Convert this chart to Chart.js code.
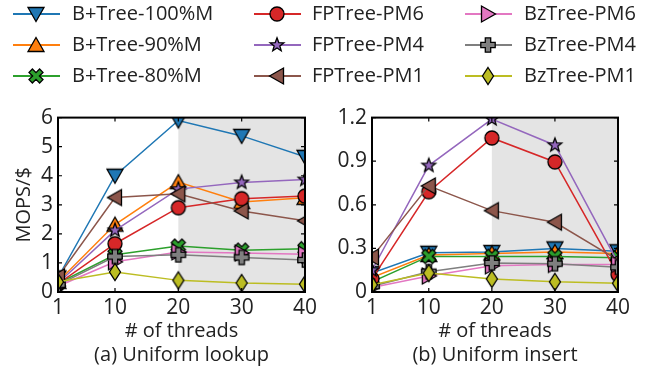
<!DOCTYPE html>
<html>
<head>
<meta charset="utf-8">
<script src="https://cdn.jsdelivr.net/npm/chart.js@4.4.1/dist/chart.umd.min.js"></script>
<style>
  html, body { margin:0; padding:0; background:#fff; }
  body { width:649px; height:370px; position:relative; overflow:hidden; font-family:"Open Sans", sans-serif; }
  canvas { position:absolute; }
  .lg { position:absolute; font-size:20px; line-height:20px; color:#222; white-space:nowrap; }
</style>
</head>
<body>
<canvas id="legend" width="649" height="95" style="left:0;top:0"></canvas>
<canvas id="c1" width="325" height="270" style="left:0;top:100px"></canvas>
<canvas id="c2" width="324" height="270" style="left:325px;top:100px"></canvas>
<div id="lgtext"></div>
<script>
// ---------------- data ----------------
const threads = [1, 10, 20, 30, 40];
const xTickLabels = ['1', '10', '20', '30', '40'];
const seriesNames = ['B+Tree-100%M', 'B+Tree-90%M', 'B+Tree-80%M',
                     'FPTree-PM6', 'FPTree-PM4', 'FPTree-PM1',
                     'BzTree-PM6', 'BzTree-PM4', 'BzTree-PM1'];

// (a) Uniform lookup, MOPS/$
const lookupBTree100 = [0.50, 4.00, 5.90, 5.37, 4.65];
const lookupBTree90  = [0.35, 2.32, 3.78, 3.10, 3.24];
const lookupBTree80  = [0.30, 1.28, 1.58, 1.44, 1.49];
const lookupFPPM6    = [0.28, 1.66, 2.90, 3.21, 3.30];
const lookupFPPM4    = [0.30, 2.12, 3.54, 3.77, 3.87];
const lookupFPPM1    = [0.52, 3.25, 3.38, 2.79, 2.45];
const lookupBzPM6    = [0.20, 1.04, 1.38, 1.34, 1.30];
const lookupBzPM4    = [0.25, 1.22, 1.28, 1.19, 1.10];
const lookupBzPM1    = [0.35, 0.69, 0.40, 0.31, 0.27];

// (b) Uniform insert, MOPS/$
const insertBTree100 = [0.13, 0.27, 0.275, 0.30, 0.28];
const insertBTree90  = [0.10, 0.255, 0.265, 0.275, 0.265];
const insertBTree80  = [0.07, 0.245, 0.245, 0.245, 0.235];
const insertFPPM6    = [0.09, 0.69, 1.06, 0.895, 0.12];
const insertFPPM4    = [0.15, 0.87, 1.19, 1.01, 0.20];
const insertFPPM1    = [0.24, 0.73, 0.56, 0.48, 0.22];
const insertBzPM6    = [0.03, 0.11, 0.18, 0.19, 0.19];
const insertBzPM4    = [0.04, 0.14, 0.20, 0.195, 0.17];
const insertBzPM1    = [0.05, 0.13, 0.09, 0.07, 0.06];

const lookupYTicks = [0, 1, 2, 3, 4, 5, 6];
const lookupYTickLabels = ['0', '1', '2', '3', '4', '5', '6'];
const insertYTicks = [0, 0.3, 0.6, 0.9, 1.2];
const insertYTickLabels = ['0', '0.3', '0.6', '0.9', '1.2'];
const shadeRange = [20, 40];

const lookupSeries = [lookupBTree100, lookupBTree90, lookupBTree80, lookupFPPM6, lookupFPPM4, lookupFPPM1, lookupBzPM6, lookupBzPM4, lookupBzPM1];
const insertSeries = [insertBTree100, insertBTree90, insertBTree80, insertFPPM6, insertFPPM4, insertFPPM1, insertBzPM6, insertBzPM4, insertBzPM1];

// ---------------- styles ----------------
const colors = ['#1f77b4', '#ff7f0e', '#2ca02c', '#d62728', '#9467bd', '#8c564b', '#e377c2', '#7f7f7f', '#bcbd22'];
const shapes = ['down', 'up', 'x', 'circle', 'star', 'left', 'right', 'plus', 'diamond'];

function makeMarker(shape, color) {
  const c = document.createElement('canvas');
  c.width = 22; c.height = 22;
  const g = c.getContext('2d');
  g.translate(11, 11);
  g.fillStyle = color; g.strokeStyle = '#000'; g.lineWidth = 1.3; g.lineJoin = 'miter';
  g.beginPath();
  const poly = pts => { g.moveTo(pts[0][0], pts[0][1]); for (let i = 1; i < pts.length; i++) g.lineTo(pts[i][0], pts[i][1]); };
  if (shape === 'down') poly([[-8, -6.5], [8, -6.5], [0, 7.5]]);
  else if (shape === 'up') poly([[-8, 6.5], [8, 6.5], [0, -7.5]]);
  else if (shape === 'left') poly([[-7.5, 0], [6.5, -8], [6.5, 8]]);
  else if (shape === 'right') poly([[7.5, 0], [-6.5, -8], [-6.5, 8]]);
  else if (shape === 'circle') g.arc(0, 0, 7, 0, Math.PI * 2);
  else if (shape === 'diamond') poly([[0, -8.5], [5.5, 0], [0, 8.5], [-5.5, 0]]);
  else if (shape === 'star') {
    const pts = [];
    for (let i = 0; i < 10; i++) {
      const r = i % 2 ? 3 : 7.2, a = -Math.PI / 2 + i * Math.PI / 5;
      pts.push([r * Math.cos(a), r * Math.sin(a)]);
    }
    poly(pts);
  } else if (shape === 'plus' || shape === 'x') {
    const t = shape === 'plus' ? 2.7 : 2.4, L = shape === 'plus' ? 7.2 : 7.5;
    let pts = [[-t, -L], [t, -L], [t, -t], [L, -t], [L, t], [t, t], [t, L], [-t, L], [-t, t], [-L, t], [-L, -t], [-t, -t]];
    if (shape === 'x') {
      const c45 = Math.SQRT1_2;
      pts = pts.map(([x, y]) => [c45 * (x - y), c45 * (x + y)]);
    }
    poly(pts);
  }
  g.closePath(); g.fill(); g.stroke();
  return c;
}
const markers = shapes.map((s, i) => makeMarker(s, colors[i]));

Chart.defaults.font.family = '"Open Sans", sans-serif';
Chart.defaults.color = '#222';

const framePlugin = {
  id: 'frame',
  beforeDatasetsDraw(chart) {
    const { ctx, chartArea: a, scales: { x } } = chart;
    const x0 = x.getPixelForValue(shadeRange[0]), x1 = x.getPixelForValue(shadeRange[1]);
    ctx.save();
    ctx.fillStyle = '#e4e4e4';
    ctx.fillRect(x0, a.top, x1 - x0, a.bottom - a.top);
    ctx.restore();
  },
  afterDatasetsDraw(chart) {
    const { ctx, chartArea: a, scales: { x, y } } = chart;
    ctx.save();
    ctx.strokeStyle = '#000';
    ctx.lineWidth = 1.2;
    ctx.beginPath();
    x.ticks.forEach(t => {
      const p = x.getPixelForValue(t.value);
      ctx.moveTo(p, a.bottom); ctx.lineTo(p, a.bottom - 4);
      ctx.moveTo(p, a.top); ctx.lineTo(p, a.top + 4);
    });
    y.ticks.forEach(t => {
      const p = y.getPixelForValue(t.value);
      ctx.moveTo(a.left, p); ctx.lineTo(a.left + 4, p);
      ctx.moveTo(a.right, p); ctx.lineTo(a.right - 4, p);
    });
    ctx.stroke();
    ctx.lineWidth = 2;
    ctx.strokeRect(a.left, a.top, a.right - a.left, a.bottom - a.top);
    ctx.restore();
  }
};

function makeChart(id, series, yMax, yTicks, yLabels, caption, yTitle, yWidth, padRight) {
  const datasets = series.map((vals, i) => ({
    label: seriesNames[i],
    data: threads.map((t, j) => ({ x: t, y: vals[j] })),
    borderColor: colors[i],
    backgroundColor: colors[i],
    borderWidth: 1.5,
    pointStyle: markers[i],
    pointRadius: 8,
    pointHoverRadius: 8,
    tension: 0,
    clip: 0,
    order: series.length - 1 - i
  }));
  return new Chart(document.getElementById(id), {
    type: 'line',
    data: { datasets },
    plugins: [framePlugin],
    options: {
      responsive: false,
      animation: false,
      devicePixelRatio: 1,
      layout: { padding: { top: 14, right: padRight, left: 0, bottom: 0 } },
      plugins: { legend: { display: false }, tooltip: { enabled: false } },
      scales: {
        x: {
          type: 'linear', min: threads[0], max: threads[threads.length - 1],
          grid: { display: false, drawTicks: false },
          border: { display: false },
          afterBuildTicks: s => { s.ticks = threads.map(v => ({ value: v })); },
          afterFit: s => { s.height = 78; },
          ticks: {
            autoSkip: false, maxRotation: 0, padding: 3,
            font: { size: 21 },
            callback: (v) => xTickLabels[threads.indexOf(v)]
          },
          title: {
            display: true, text: ['# of threads', caption],
            font: { size: 20, lineHeight: 1.2 },
            padding: { top: 0, bottom: 3 }
          }
        },
        y: {
          type: 'linear', min: 0, max: yMax,
          grid: { display: false, drawTicks: false },
          border: { display: false },
          afterBuildTicks: s => { s.ticks = yTicks.map(v => ({ value: v })); },
          afterFit: s => { s.width = yWidth; },
          ticks: {
            autoSkip: false, padding: 5,
            font: { size: 21 },
            callback: (v) => { const k = yTicks.findIndex(t => Math.abs(t - v) < 1e-9); return k >= 0 ? yLabels[k] : ''; }
          },
          title: {
            display: !!yTitle, text: yTitle || '',
            font: { size: 20, lineHeight: 1.2 },
            padding: { top: 12, bottom: 0 }
          }
        }
      }
    }
  });
}

makeChart('c1', lookupSeries, 6, lookupYTicks, lookupYTickLabels, '(a) Uniform lookup', 'MOPS/$', 58, 20);
makeChart('c2', insertSeries, 1.2, insertYTicks, insertYTickLabels, '(b) Uniform insert', '', 47, 31);

// ---------------- legend ----------------
const lgCols = [{ line: 13, marker: 36, text: 72 }, { line: 254, marker: 277, text: 312 }, { line: 465, marker: 488, text: 524 }];
const lgRows = [14, 45, 76];
const lc = document.getElementById('legend').getContext('2d');
const lgText = document.getElementById('lgtext');
seriesNames.forEach((name, i) => {
  const col = lgCols[Math.floor(i / 3)], cy = lgRows[i % 3];
  lc.strokeStyle = colors[i]; lc.lineWidth = 1.8;
  lc.beginPath(); lc.moveTo(col.line, cy); lc.lineTo(col.line + 47, cy); lc.stroke();
  lc.drawImage(markers[i], col.marker - 11, cy - 11);
  const s = document.createElement('span');
  s.className = 'lg'; s.textContent = name;
  s.style.left = col.text + 'px'; s.style.top = (cy - 10.7) + 'px';
  lgText.appendChild(s);
});
</script>
</body>
</html>
